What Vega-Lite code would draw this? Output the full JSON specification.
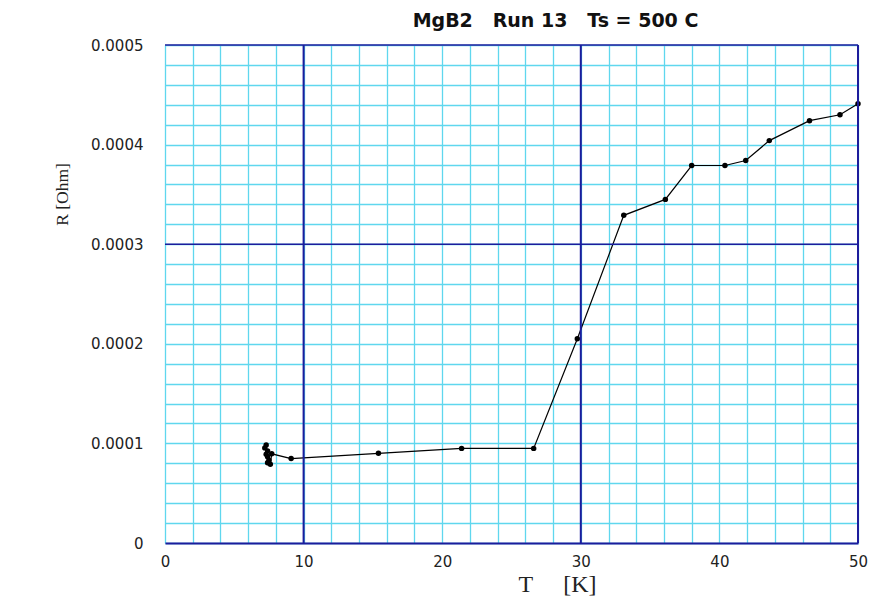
{
  "$schema": "https://vega.github.io/schema/vega-lite/v6.json",
  "width": 693,
  "height": 498,
  "autosize": {"type": "none"},
  "padding": {"left": 165, "top": 45, "right": 12, "bottom": 59},
  "background": "white",
  "title": {
    "text": "MgB2\u00a0\u00a0\u00a0Run 13\u00a0\u00a0\u00a0Ts = 500 C",
    "anchor": "middle",
    "dx": 44,
    "offset": 7,
    "font": "DejaVu Sans",
    "fontSize": 19,
    "fontWeight": "bold",
    "color": "#111"
  },
  "config": {
    "view": {"stroke": null},
    "axis": {
      "labelFont": "DejaVu Sans",
      "labelFontSize": 15,
      "labelColor": "#222",
      "labelOverlap": false,
      "tickCount": 100,
      "titleFont": "Liberation Serif",
      "titleFontWeight": "normal",
      "titleColor": "#222",
      "gridColor": "#5fd7ee",
      "gridOpacity": 1,
      "gridWidth": 1.3,
      "ticks": false
    }
  },
  "datasets": {
    "curve": [
      {"i": 1, "T": 7.3, "R": 0.0000985},
      {"i": 2, "T": 7.2, "R": 0.0000955},
      {"i": 3, "T": 7.4, "R": 0.0000925},
      {"i": 4, "T": 7.3, "R": 0.000089},
      {"i": 5, "T": 7.4, "R": 0.0000865},
      {"i": 6, "T": 7.5, "R": 0.000083},
      {"i": 7, "T": 7.4, "R": 0.0000805},
      {"i": 8, "T": 7.6, "R": 0.000079},
      {"i": 9, "T": 7.7, "R": 0.0000895},
      {"i": 10, "T": 9.1, "R": 0.0000848},
      {"i": 11, "T": 15.4, "R": 0.00009},
      {"i": 12, "T": 21.4, "R": 0.000095},
      {"i": 13, "T": 26.6, "R": 0.000095},
      {"i": 14, "T": 29.75, "R": 0.000205},
      {"i": 15, "T": 33.1, "R": 0.000329},
      {"i": 16, "T": 36.1, "R": 0.000345},
      {"i": 17, "T": 38.0, "R": 0.000379},
      {"i": 18, "T": 40.4, "R": 0.000379},
      {"i": 19, "T": 41.9, "R": 0.000384},
      {"i": 20, "T": 43.6, "R": 0.000404},
      {"i": 21, "T": 46.5, "R": 0.000424},
      {"i": 22, "T": 48.7, "R": 0.00043},
      {"i": 23, "T": 50.0, "R": 0.000441}
    ],
    "vmajor": [{"T": 10}, {"T": 30}, {"T": 50}],
    "hmajor": [{"R": 0.0003}, {"R": 0.0005}]
  },
  "layer": [
    {
      "data": {"name": "curve"},
      "mark": {"type": "line", "color": "black", "strokeWidth": 1.2},
      "encoding": {
        "x": {
          "field": "T",
          "type": "quantitative",
          "scale": {"domain": [0, 50], "nice": false, "zero": false},
          "axis": {
            "values": [0,2,4,6,8,10,12,14,16,18,20,22,24,26,28,30,32,34,36,38,40,42,44,46,48,50],
            "tickCount": 100,
            "labelExpr": "datum.value % 10 === 0 ? format(datum.value, 'd') : ''",
            "labelPadding": 11,
            "labelFlush": false,
            "domainColor": "#1c1c9c",
            "domainWidth": 2,
            "title": "T\u00a0\u00a0\u00a0\u00a0\u00a0[K]",
            "titleFontSize": 24,
            "titleX": 392,
            "titleY": 41,
            "titleBaseline": "middle",
            "titleAlign": "center"
          }
        },
        "y": {
          "field": "R",
          "type": "quantitative",
          "scale": {"domain": [0, 0.0005], "nice": false},
          "axis": {
            "values": [0,0.00002,0.00004,0.00006,0.00008,0.0001,0.00012,0.00014,0.00016,0.00018,0.0002,0.00022,0.00024,0.00026,0.00028,0.0003,0.00032,0.00034,0.00036,0.00038,0.0004,0.00042,0.00044,0.00046,0.00048,0.0005],
            "tickCount": 100,
            "labelExpr": "abs(datum.value*10000 - round(datum.value*10000)) < 0.001 ? (datum.value == 0 ? '0' : format(datum.value, '.4f')) : ''",
            "labelPadding": 22,
            "labelFlush": false,
            "domain": false,
            "title": "R [Ohm]",
            "titleFontSize": 17.5,
            "titleX": -103,
            "titleY": 149,
            "titleAlign": "center",
            "titleBaseline": "middle",
            "titleAngle": -90
          }
        },
        "order": {"field": "i"}
      }
    },
    {
      "data": {"name": "curve"},
      "mark": {"type": "point", "filled": true, "color": "black", "opacity": 1, "size": 30},
      "encoding": {
        "x": {"field": "T", "type": "quantitative"},
        "y": {"field": "R", "type": "quantitative"}
      }
    },
    {
      "data": {"name": "vmajor"},
      "mark": {"type": "rule", "color": "#1c1c9c", "strokeWidth": 2},
      "encoding": {"x": {"field": "T", "type": "quantitative"}}
    },
    {
      "data": {"name": "hmajor"},
      "mark": {"type": "rule", "color": "#1c1c9c", "strokeWidth": 1.6},
      "encoding": {"y": {"field": "R", "type": "quantitative"}}
    }
  ]
}
